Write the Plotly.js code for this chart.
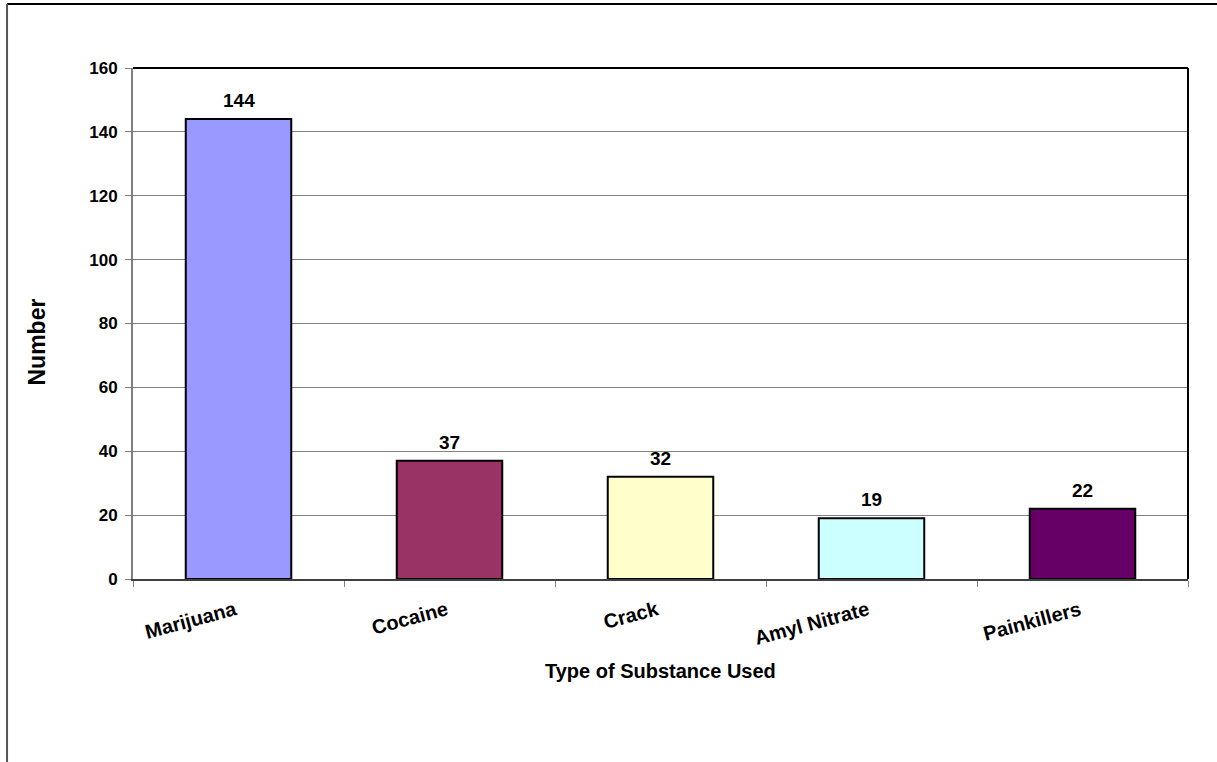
<!DOCTYPE html>
<html>
<head>
<meta charset="utf-8">
<script src="https://cdn.plot.ly/plotly-3.0.1.min.js"></script>
<style>html,body{margin:0;padding:0;background:#fff;}#chart{width:1217px;height:762px;}</style>
</head>
<body>
<div id="chart"></div>
<script>
const categories = ["Marijuana", "Cocaine", "Crack", "Amyl Nitrate", "Painkillers"];
const values = [144, 37, 32, 19, 22];
const barColors = ["#9999FF", "#993366", "#FFFFCC", "#CCFFFF", "#660066"];
const yTicks = [0, 20, 40, 60, 80, 100, 120, 140, 160];

const FONT = "Arial, 'Liberation Sans', sans-serif";

const trace = {
  type: "bar",
  x: categories,
  y: values,
  marker: {color: barColors, line: {color: "#000000", width: 2}},
  hoverinfo: "x+y"
};

const valueLabels = categories.map((c, i) => ({
  x: c, y: values[i], xref: "x", yref: "y",
  text: "<b>" + values[i] + "</b>",
  showarrow: false, yanchor: "bottom", yshift: 6,
  font: {family: FONT, size: 19, color: "#000"}
}));

const catLabels = categories.map(c => ({
  x: c, y: 0, xref: "x", yref: "y",
  text: "<b>" + c + "</b>",
  showarrow: false, textangle: -15,
  xanchor: "right", yanchor: "top", xshift: 3, yshift: -16,
  font: {family: FONT, size: 20, color: "#000"}
}));

const titles = [
  {x: 0.5, y: 0, xref: "paper", yref: "paper", yshift: -92, xanchor: "center", yanchor: "middle",
   text: "<b>Type of Substance Used</b>", showarrow: false,
   font: {family: FONT, size: 20, color: "#000"}},
  {x: 0, y: 0.5, xref: "paper", yref: "paper", xshift: -97, yshift: -19, xanchor: "center", yanchor: "middle",
   text: "<b>Number</b>", showarrow: false, textangle: -90,
   font: {family: FONT, size: 23, color: "#000"}}
];

const layout = {
  width: 1217, height: 762,
  margin: {l: 133, r: 29, t: 68, b: 183},
  paper_bgcolor: "#ffffff", plot_bgcolor: "#ffffff",
  font: {family: FONT, color: "#000"},
  bargap: 0.5,
  showlegend: false,
  xaxis: {
    type: "category",
    tickson: "boundaries",
    ticks: "outside", ticklen: 6, tickcolor: "#808080", tickwidth: 1,
    showline: true, linecolor: "#404040", linewidth: 2,
    showgrid: false,
    showticklabels: false,
    automargin: false
  },
  yaxis: {
    range: [0, 160],
    tickvals: yTicks,
    ticktext: yTicks.map(v => "<b>" + v + "</b>"),
    ticks: "outside", ticklen: 6, tickcolor: "#808080", tickwidth: 1,
    ticklabelstandoff: 4,
    showline: true, linecolor: "#808080", linewidth: 2,
    showgrid: true, gridcolor: "#808080", gridwidth: 1,
    zeroline: false,
    tickfont: {family: FONT, size: 17, color: "#000", weight: "bold"},
    automargin: false
  },
  annotations: valueLabels.concat(catLabels, titles),
  shapes: [
    {type: "line", xref: "paper", yref: "paper", x0: 0, x1: 1, y0: 1, y1: 1, line: {color: "#000", width: 2}},
    {type: "line", xref: "paper", yref: "paper", x0: 1, x1: 1, y0: 0, y1: 1, line: {color: "#000", width: 2}},
    {type: "line", xref: "paper", yref: "paper", x0: -0.1194, x1: 1.2, y0: 1.1252, y1: 1.1252, line: {color: "#000", width: 2}},
    {type: "line", xref: "paper", yref: "paper", x0: -0.1194, x1: -0.1194, y0: -0.5, y1: 1.1252, line: {color: "#555", width: 2}}
  ]
};

Plotly.newPlot("chart", [trace], layout, {displayModeBar: false, staticPlot: true});
</script>
</body>
</html>
